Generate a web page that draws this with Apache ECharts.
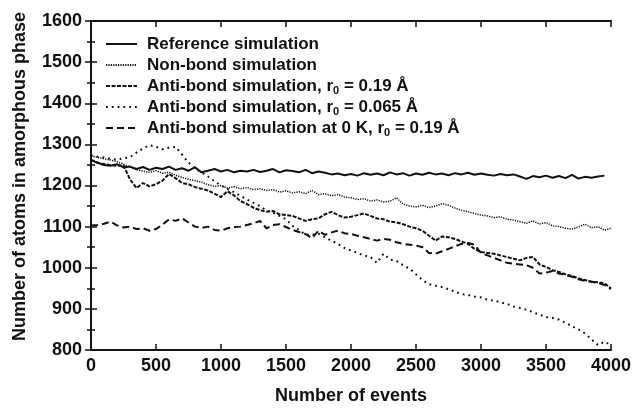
<!DOCTYPE html>
<html>
<head>
<meta charset="utf-8">
<script src="https://cdn.jsdelivr.net/npm/echarts@6/dist/echarts.min.js"></script>
<style>
  html, body { margin: 0; padding: 0; background: #fff; }
  #chart { width: 634px; height: 411px; }
</style>
</head>
<body>
<div id="chart"></div>
<script>
// x positions (number of events)
const events = [
  0, 50, 100, 150, 200, 250, 300, 350, 400, 450,
  500, 550, 600, 650, 700, 750, 800, 850, 900, 950,
  1000, 1050, 1100, 1150, 1200, 1250, 1300, 1350, 1400, 1450,
  1500, 1550, 1600, 1650, 1700, 1750, 1800, 1850, 1900, 1950,
  2000, 2050, 2100, 2150, 2200, 2250, 2300, 2350, 2400, 2450,
  2500, 2550, 2600, 2650, 2700, 2750, 2800, 2850, 2900, 2950,
  3000, 3050, 3100, 3150, 3200, 3250, 3300, 3350, 3400, 3450,
  3500, 3550, 3600, 3650, 3700, 3750, 3800, 3850, 3900, 3950,
  4000
];

// Reference simulation (ends a bit before 4000)
const refSim = [
  1262, 1255, 1250, 1248, 1252, 1244, 1246, 1240, 1245, 1238,
  1243, 1240, 1246, 1238, 1242, 1236, 1244, 1232, 1236, 1240,
  1234, 1238, 1232, 1236, 1234, 1238, 1233, 1236, 1240, 1232,
  1237, 1235, 1232, 1238, 1230, 1234, 1231, 1227, 1229, 1225,
  1228, 1224, 1230, 1226, 1229, 1225, 1232, 1227, 1230, 1224,
  1229, 1226, 1231, 1227, 1229, 1225, 1230, 1227, 1231, 1226,
  1229, 1226, 1224, 1228, 1225, 1227, 1222, 1216, 1223, 1220,
  1224, 1219, 1223, 1218, 1226, 1217, 1221, 1219, 1222, 1224
];

// Non-bond simulation
const nonBond = [
  1272, 1268, 1265, 1262, 1258, 1252, 1245, 1238, 1235, 1232,
  1236, 1230, 1232, 1225, 1220, 1215, 1212, 1208, 1202, 1198,
  1200, 1194, 1197, 1192, 1195, 1190, 1192, 1188, 1190, 1184,
  1187, 1182, 1185, 1180, 1188, 1178, 1180, 1175, 1178, 1172,
  1170, 1166, 1168, 1162, 1165, 1160, 1162, 1170, 1155, 1150,
  1148, 1152, 1146, 1150, 1156, 1152, 1145, 1140, 1136, 1132,
  1128, 1126, 1122, 1124, 1118, 1116, 1112, 1108, 1114, 1106,
  1110, 1102, 1100, 1096, 1094, 1099, 1106, 1097, 1100, 1091,
  1096
];

// Anti-bond simulation, r0 = 0.19 Å
const antiBond019 = [
  1262, 1256, 1252, 1250, 1248, 1249, 1215, 1194, 1206, 1198,
  1203, 1212, 1228, 1218, 1206, 1203, 1196, 1192, 1188, 1180,
  1172, 1186, 1176, 1162, 1155, 1146, 1140, 1136, 1138, 1130,
  1128, 1126, 1120, 1114, 1118, 1120, 1130, 1136, 1128, 1122,
  1124, 1128, 1132, 1126, 1120, 1118, 1112, 1110, 1106, 1100,
  1096, 1090, 1078, 1066, 1076, 1074, 1070, 1064, 1058, 1046,
  1038, 1036, 1034, 1030, 1026, 1022, 1018, 1024, 1026, 1008,
  1002, 994, 990, 984, 980, 974, 970, 966, 965, 962,
  950
];

// Anti-bond simulation, r0 = 0.065 Å
const antiBond0065 = [
  1273, 1270, 1268, 1265, 1263, 1266, 1269, 1280, 1290, 1298,
  1294, 1288, 1292, 1294, 1275, 1256, 1242, 1232, 1222, 1210,
  1200, 1192, 1184, 1175, 1166, 1158, 1150, 1139, 1134, 1126,
  1118, 1102, 1092, 1080, 1080, 1083, 1074, 1066, 1058, 1048,
  1042, 1036, 1030, 1026, 1012, 1034, 1020, 1017, 1006, 998,
  984, 970, 960, 956, 953, 948, 942, 936, 934, 930,
  928, 922, 920, 916, 912, 906, 902, 898, 892, 886,
  880, 878, 874, 866, 858, 850, 840, 826, 812, 820,
  812
];

// Anti-bond simulation at 0 K, r0 = 0.19 Å
const antiBond0K = [
  1103, 1104, 1107, 1112, 1103, 1098, 1100, 1094, 1096, 1090,
  1094, 1105, 1118, 1114, 1120, 1110, 1100, 1097, 1100, 1092,
  1090, 1096, 1099, 1100, 1104, 1108, 1114, 1096, 1104, 1106,
  1099, 1092, 1087, 1082, 1072, 1090, 1080, 1086, 1090, 1084,
  1082, 1078, 1074, 1070, 1066, 1070, 1068, 1062, 1058, 1056,
  1054, 1050, 1036, 1034, 1040, 1046, 1052, 1058, 1060, 1056,
  1036, 1030, 1024, 1018, 1012, 1010, 1008, 1006, 1000, 986,
  988, 992, 986, 982, 978, 972, 968, 966, 963, 958,
  948
];

const seriesNames = [
  'Reference simulation',
  'Non-bond simulation',
  'Anti-bond simulation, r0 = 0.19 Å',
  'Anti-bond simulation, r0 = 0.065 Å',
  'Anti-bond simulation at 0 K, r0 = 0.19 Å'
];

const pairs = (vals) => vals.map((v, i) => [events[i], v]);

const FONT = 'Liberation Sans';
const INK = '#111';

const chart = echarts.init(document.getElementById('chart'), null, { renderer: 'canvas' });

const boldText = (size) => ({ fontFamily: FONT, fontWeight: 700, fontSize: size, color: INK });

// 轴的公共样式
const tickAxis = (extra) => Object.assign({
  axisLine: { show: true, lineStyle: { color: INK, width: 2 } },
  axisTick: { show: true, inside: true, length: 6, lineStyle: { color: INK, width: 1.5 } },
  splitLine: { show: false }
}, extra);

const mkLine = (name, data, type, width) => ({
  name: name,
  type: 'line',
  xAxisIndex: 0,
  yAxisIndex: 0,
  data: data,
  showSymbol: false,
  symbol: 'none',
  animation: false,
  lineStyle: { color: INK, width: width, type: type },
  itemStyle: { color: INK }
});

const option = {
  backgroundColor: '#fff',
  animation: false,
  textStyle: { fontFamily: FONT, fontWeight: 700 },
  grid: { left: 91, right: 22, top: 21, bottom: 61 },
  legend: {
    show: true,
    orient: 'vertical',
    left: 100,
    top: 29,
    itemWidth: 31,
    itemHeight: 20,
    itemGap: 1,
    data: seriesNames,
    itemStyle: { color: 'rgba(0,0,0,0)', borderWidth: 0 },
    formatter: (name) => name.replace('r0', 'r{sub|0}'),
    textStyle: Object.assign(boldText(17), {
      lineHeight: 20,
      padding: [0, 0, 0, 5],
      rich: {
        sub: Object.assign(boldText(11), { verticalAlign: 'bottom', lineHeight: 14 })
      }
    })
  },
  xAxis: [
    tickAxis({
      type: 'value', position: 'bottom', min: 0, max: 4000, interval: 500,
      name: 'Number of events', nameLocation: 'middle', nameGap: 37,
      nameTextStyle: boldText(18),
      axisLabel: Object.assign(boldText(18), { margin: 7, formatter: (v) => String(v) })
    }),
    tickAxis({
      type: 'value', position: 'top', min: 0, max: 4000, interval: 500,
      axisLabel: { show: false }
    })
  ],
  yAxis: [
    tickAxis({
      type: 'value', position: 'left', min: 800, max: 1600, interval: 100,
      name: 'Number of atoms in amorphous phase', nameLocation: 'middle', nameGap: 62,
      nameTextStyle: Object.assign(boldText(18), { padding: [0, 0, 0, 18] }),
      minorTick: { show: true, splitNumber: 2, length: 4, lineStyle: { color: INK, width: 1.5 } },
      axisLabel: Object.assign(boldText(18), { margin: 9, formatter: (v) => String(v) })
    }),
    tickAxis({
      type: 'value', position: 'right', min: 800, max: 1600, interval: 100,
      minorTick: { show: true, splitNumber: 2, length: 4, lineStyle: { color: INK, width: 1.5 } },
      axisLabel: { show: false }
    })
  ],
  series: [
    mkLine(seriesNames[0], pairs(refSim), 'solid', 2),
    mkLine(seriesNames[1], pairs(nonBond), [1.2, 1.2], 1.5),
    mkLine(seriesNames[2], pairs(antiBond019), [4, 1.5], 2),
    mkLine(seriesNames[3], pairs(antiBond0065), [1.8, 4], 2),
    mkLine(seriesNames[4], pairs(antiBond0K), [7, 4], 2)
  ]
};

chart.setOption(option);
</script>
</body>
</html>
